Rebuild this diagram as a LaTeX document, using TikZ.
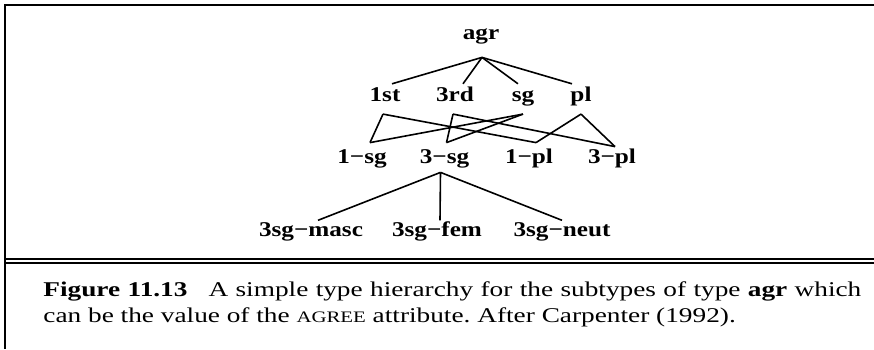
\documentclass[tikz,border=0pt]{standalone}
\usepackage{fontspec}
\setmainfont{Liberation Serif}[FakeStretch=1.2]
\newfontfamily\capfont{Liberation Serif}[FakeStretch=1.3]
\frenchspacing
\begin{document}
\begin{tikzpicture}[x=0.5pt, y=-0.5pt,
    typenode/.style={inner sep=0pt, anchor=base, font=\fontsize{10.5}{12}\selectfont\bfseries},
    toprow/.style={typenode, text depth=9pt},
    midrow/.style={typenode, text height=8.75pt, text depth=6pt},
    lowrow/.style={typenode, text height=10pt, text depth=4.5pt},
    leafrow/.style={typenode, text height=8pt},
    border/.style={line width=1pt},
    link/.style={line width=0.8pt}]
  \useasboundingbox (0,0) rectangle (874,349);
  % frame
  \draw[border] (4,5) -- (874,5);
  \draw[border] (5,4) -- (5,349);
  \draw[border] (5,258.7) -- (874,258.7);
  \draw[border] (5,262.7) -- (874,262.7);
  % types
  \node[toprow] (agr) at (481,39) {agr};
  \node[midrow] (first) at (385,101.7) {1st};
  \node[midrow] (third) at (455,101.7) {3rd};
  \node[midrow] (sg) at (523,101.7) {sg};
  \node[midrow] (pl) at (581,101.7) {pl};
  \node[lowrow] (onesg) at (362,163) {1−sg};
  \node[lowrow] (threesg) at (444.5,163) {3−sg};
  \node[lowrow] (onepl) at (529,163) {1−pl};
  \node[lowrow] (threepl) at (612,163) {3−pl};
  \node[leafrow] (masc) at (311,236.7) {3sg−masc};
  \node[leafrow] (fem) at (437,236.7) {3sg−fem};
  \node[leafrow] (neut) at (562,236.7) {3sg−neut};
  \begin{scope}[link]
    \draw ([xshift=0.5pt]agr.south) -- ([xshift=3.5pt]first.north);
    \draw ([xshift=0.5pt]agr.south) -- ([xshift=4pt]third.north);
    \draw ([xshift=0.5pt]agr.south) -- ([xshift=-2.5pt]sg.north);
    \draw ([xshift=0.5pt]agr.south) -- ([xshift=-4.5pt]pl.north);
    \draw ([xshift=-1pt]first.south) -- ([xshift=4pt]onesg.north);
    \draw ([xshift=-1pt]first.south) -- ([xshift=3.5pt]onepl.north);
    \draw ([xshift=-1pt]third.south) -- ([xshift=1pt]threesg.north);
    \draw ([xshift=-1pt]third.south) -- ([xshift=1.5pt,yshift=-2pt]threepl.north);
    \draw (sg.south) -- ([xshift=4pt]onesg.north);
    \draw (sg.south) -- ([xshift=1pt]threesg.north);
    \draw (pl.south) -- ([xshift=3.5pt]onepl.north);
    \draw (pl.south) -- ([xshift=1.5pt,yshift=-2pt]threepl.north);
    \draw ([xshift=-2pt]threesg.south) -- ([xshift=3.5pt]masc.north);
    \draw ([xshift=-2pt]threesg.south) -- ([xshift=1.5pt]fem.north);
    \draw ([xshift=-2pt]threesg.south) -- (neut.north);
  \end{scope}
  % caption
  \node[anchor=north west, inner sep=0pt, align=left,
        font=\capfont\fontsize{10.5}{13}\selectfont] (caption) at (43,281)
    {\makebox[409pt][s]{\textbf{Figure 11.13}\quad A simple type hierarchy for the subtypes of type \textbf{agr} which}\\
     can be the value of the {\fontsize{8}{10}\selectfont AGREE} attribute. After Carpenter (1992).};
\end{tikzpicture}
\end{document}
